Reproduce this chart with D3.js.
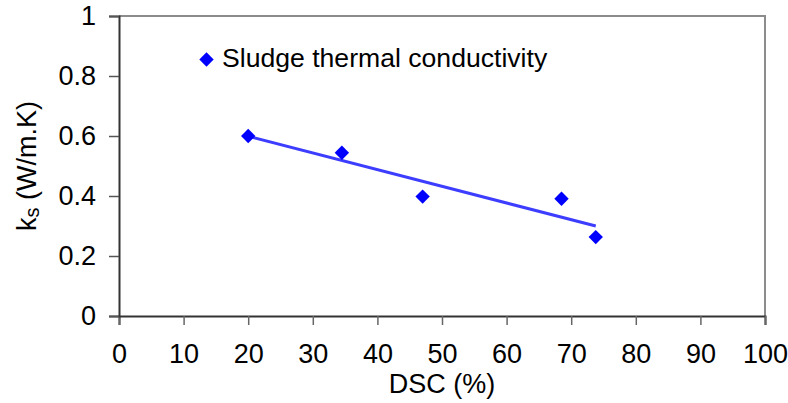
<!DOCTYPE html>
<html>
<head>
<meta charset="utf-8">
<script src="https://cdn.jsdelivr.net/npm/d3@7"></script>
<style>
html,body{margin:0;padding:0;background:#fff;}
svg{display:block;font-family:"Liberation Sans",Arial,sans-serif;}
</style>
</head>
<body>
<svg id="chart" width="788" height="403"></svg>
<script>
// Data
const dscValues = [20, 34.5, 47, 68.5, 73.8];
const ksValues = [0.60, 0.544, 0.398, 0.391, 0.263];
const xTicks = [0, 10, 20, 30, 40, 50, 60, 70, 80, 90, 100];
const yTicks = [0, 0.2, 0.4, 0.6, 0.8, 1];
const seriesName = "Sludge thermal conductivity";

const svg = d3.select("#chart");
const mLeft = 119, mRight = 765, mTop = 16, mBottom = 316;
const x = d3.scaleLinear().domain([0, 100]).range([mLeft, mRight]);
const y = d3.scaleLinear().domain([0, 1]).range([mBottom, mTop]);
const FS = 27;

// plot border (top/right gray)
svg.append("path")
  .attr("d", `M${mLeft},${mTop}H${mRight}V${mBottom}`)
  .attr("fill", "none").attr("stroke", "#8c8c8c").attr("stroke-width", 2);

// X axis
const xAxis = svg.append("g").attr("transform", `translate(0,${mBottom})`)
  .call(d3.axisBottom(x).tickValues(xTicks).tickSize(9).tickPadding(19).tickFormat(d3.format("d")));
xAxis.select(".domain").attr("stroke", "#333").attr("stroke-width", 2);
xAxis.selectAll(".tick line").attr("stroke", "#666").attr("stroke-width", 1.5);
xAxis.selectAll(".tick text").attr("font-size", FS).attr("fill", "#000")
  .attr("font-family", "Liberation Sans, Arial, sans-serif");

// Y axis
const yAxis = svg.append("g").attr("transform", `translate(${mLeft},0)`)
  .call(d3.axisLeft(y).tickValues(yTicks).tickSize(10).tickPadding(13).tickFormat(d => String(+d.toFixed(1))));
yAxis.select(".domain").attr("stroke", "#333").attr("stroke-width", 2);
yAxis.selectAll(".tick line").attr("stroke", "#555").attr("stroke-width", 1.5);
yAxis.selectAll(".tick text").attr("font-size", FS).attr("fill", "#000")
  .attr("font-family", "Liberation Sans, Arial, sans-serif");

// Linear trendline (least squares, as in the spreadsheet trendline)
const mx = d3.mean(dscValues), my = d3.mean(ksValues);
const sxy = d3.sum(dscValues, (d, i) => (d - mx) * (ksValues[i] - my));
const sxx = d3.sum(dscValues, d => (d - mx) * (d - mx));
const slope = sxy / sxx, intercept = my - slope * mx;
const xExt = d3.extent(dscValues);
svg.append("line")
  .attr("x1", x(xExt[0])).attr("y1", y(intercept + slope * xExt[0]))
  .attr("x2", x(xExt[1])).attr("y2", y(intercept + slope * xExt[1]))
  .attr("stroke", "#3d3dff").attr("stroke-width", 3);

// markers
const diamond = d3.symbol().type(d3.symbolDiamond2).size(132);
svg.append("g").selectAll("path").data(dscValues).join("path")
  .attr("d", diamond)
  .attr("transform", (d, i) => `translate(${x(d)},${y(ksValues[i])})`)
  .attr("fill", "#0000ff");

// legend
svg.append("path").attr("d", diamond).attr("transform", "translate(206.5,59.5)").attr("fill", "#0000ff");
svg.append("text").attr("x", 222).attr("y", 67).attr("font-size", 26.6).attr("fill", "#000").text(seriesName);

// axis titles
svg.append("text").attr("x", (mLeft + mRight) / 2).attr("y", 393).attr("text-anchor", "middle")
  .attr("font-size", FS).attr("fill", "#000").text("DSC (%)");
const yt = svg.append("text").attr("transform", `translate(36,${(mTop + mBottom) / 2}) rotate(-90)`)
  .attr("text-anchor", "middle").attr("font-size", FS).attr("fill", "#000");
yt.append("tspan").text("k");
yt.append("tspan").attr("font-size", 20).attr("dy", 3).text("s");
yt.append("tspan").attr("dy", -3).text(" (W/m.K)");
</script>
</body>
</html>
